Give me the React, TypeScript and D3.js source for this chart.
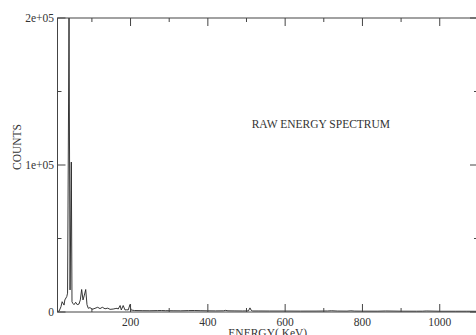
import React from "react";
import * as d3 from "d3";

const energy = [
  12, 15, 20, 23, 28, 30, 35, 37, 40.8, 43.5, 46.7, 48.5, 50.3, 53.7, 58, 62, 66.6, 70, 73.5, 77, 80.5, 84, 87.3, 90.7,
  95, 101, 108, 115, 121, 127, 134, 141, 147, 155, 160, 165, 168, 173, 176, 181, 185.6, 190, 194, 198.6, 201,
  210, 230, 250, 270, 280, 290, 310, 330, 350, 365, 380, 400, 420, 440, 446, 452, 470, 490, 505, 509, 512, 516, 530,
  560, 600, 640, 680, 710, 720, 735, 760, 770, 780, 800, 840, 860, 900, 940, 955, 965, 1000, 1040, 1070, 1100,
];
const counts = [
  500, 500, 3600, 7000, 4700, 8200, 10500, 12800, 200000, 15000, 102000, 7000, 6000, 5000, 6600, 5000, 5400, 8200, 15300, 8200, 11500, 15300, 5000, 2500,
  3000, 1800, 2500, 3200, 2300, 3200, 2200, 2600, 1800, 2000, 2300, 2500, 2000, 4400, 1400, 4400, 1400, 1500, 1400, 5100, 1400,
  1000, 900, 850, 950, 1000, 900, 850, 800, 950, 1000, 900, 800, 750, 800, 1100, 800, 750, 700, 750, 2800, 1200, 700, 700,
  650, 650, 600, 620, 700, 850, 650, 600, 800, 620, 580, 560, 700, 560, 540, 560, 700, 520, 500, 520, 480,
];

const xMajor = [200, 400, 600, 800, 1000];
const xMinor = [100, 300, 500, 700, 900, 1100];
const yMajor = [0, 100000, 200000];
const yMinor = [50000, 150000];
const yLabels = ["0", "1e+05", "2e+05"];

const title = "RAW ENERGY SPECTRUM";
const xTitle = "ENERGY( KeV)";
const yTitle = "COUNTS";

export default function App() {
  const W = 476;
  const H = 335;
  const left = 57.5;
  const right = 478;
  const top = 18;
  const bottom = 312;
  const x = d3.scaleLinear().domain([11, 1099]).range([left, right]);
  const y = d3.scaleLinear().domain([0, 200000]).range([bottom, top]);
  const pts: [number, number][] = energy.map((e, i) => [e, counts[i]]);
  const line = d3
    .line<[number, number]>()
    .x((d) => x(d[0]))
    .y((d) => y(d[1]));
  const font = "'Liberation Serif', 'Times New Roman', serif";
  const axisColor = "#444";
  const txt = "#333";
  return (
    <svg
      width={W}
      height={H}
      style={{ position: "absolute", left: 0, top: 0, background: "#fff" }}
      fontFamily={font}
    >
      <defs>
        <clipPath id="plotclip">
          <rect x={left} y={top - 1} width={right - left} height={bottom - top + 1} />
        </clipPath>
      </defs>
      <path d={line(pts) || ""} fill="none" stroke="#222" strokeWidth={0.9} clipPath="url(#plotclip)" />
      <rect x={left} y={top} width={right - left} height={bottom - top} fill="none" stroke={axisColor} strokeWidth={1} />
      {xMajor.map((v) => (
        <g key={"xM" + v}>
          <line x1={x(v)} x2={x(v)} y1={bottom} y2={bottom - 8} stroke={axisColor} />
          <line x1={x(v)} x2={x(v)} y1={top} y2={top + 8} stroke={axisColor} />
          <text x={x(v)} y={325.5} textAnchor="middle" fontSize={11.5} fill={txt}>
            {v}
          </text>
        </g>
      ))}
      {xMinor.map((v) => (
        <g key={"xm" + v}>
          <line x1={x(v)} x2={x(v)} y1={bottom} y2={bottom - 4} stroke={axisColor} />
          <line x1={x(v)} x2={x(v)} y1={top} y2={top + 4} stroke={axisColor} />
        </g>
      ))}
      {yMajor.map((v, i) => (
        <g key={"yM" + v}>
          <line x1={left} x2={left + 8} y1={y(v)} y2={y(v)} stroke={axisColor} />
          <line x1={right} x2={right - 8} y1={y(v)} y2={y(v)} stroke={axisColor} />
          <text x={54} y={y(v) + 4} textAnchor="end" fontSize={11.5} fill={txt}>
            {yLabels[i]}
          </text>
        </g>
      ))}
      {yMinor.map((v) => (
        <g key={"ym" + v}>
          <line x1={left} x2={left + 4} y1={y(v)} y2={y(v)} stroke={axisColor} />
          <line x1={right} x2={right - 4} y1={y(v)} y2={y(v)} stroke={axisColor} />
        </g>
      ))}
      <text x={251.7} y={128} fontSize={11.5} fill={txt}>
        {title}
      </text>
      <text x={(left + right) / 2} y={337} textAnchor="middle" fontSize={11.5} fill={txt}>
        {xTitle}
      </text>
      <text
        transform={`translate(20.5, 147) rotate(-90)`}
        textAnchor="middle"
        fontSize={11.5}
        fill={txt}
      >
        {yTitle}
      </text>
    </svg>
  );
}
